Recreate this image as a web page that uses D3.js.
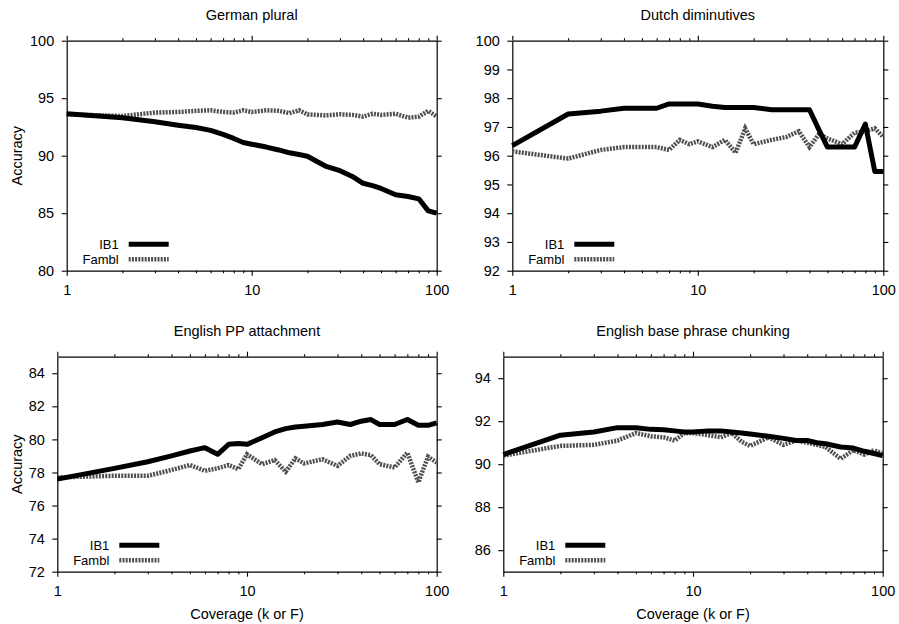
<!DOCTYPE html>
<html>
<head>
<meta charset="utf-8">
<script src="https://cdn.jsdelivr.net/npm/d3@7"></script>
<style>
  body { margin: 0; background: #fff; }
  text { font-family: "Liberation Sans", Arial, Helvetica, sans-serif; }
</style>
</head>
<body>
<svg id="chart" width="899" height="624"></svg>
<script>
// coverage values (k for IB1, F for Fambl)
const coverage = [1, 2, 3, 4, 5, 6, 7, 8, 9, 10, 12, 14, 16, 18, 20, 25, 30, 35, 40, 45, 50, 60, 70, 80, 90, 100]

const germanIB1   = [93.65, 93.3, 92.95, 92.65, 92.45, 92.2, 91.85, 91.5, 91.15, 91.0, 90.75, 90.5, 90.25, 90.1, 89.95, 89.1, 88.7, 88.2, 87.6, 87.4, 87.15, 86.6, 86.45, 86.25, 85.2, 85.0]
const germanFambl = [93.6, 93.45, 93.75, 93.8, 93.9, 93.95, 93.8, 93.75, 93.95, 93.8, 93.95, 93.9, 93.7, 93.95, 93.6, 93.5, 93.6, 93.55, 93.4, 93.65, 93.55, 93.65, 93.3, 93.4, 93.9, 93.4]

const dutchIB1   = [96.35, 97.45, 97.55, 97.65, 97.65, 97.65, 97.8, 97.8, 97.8, 97.8, 97.72, 97.68, 97.68, 97.68, 97.68, 97.6, 97.6, 97.6, 97.6, 96.9, 96.3, 96.3, 96.3, 97.1, 95.45, 95.45]
const dutchFambl = [96.15, 95.9, 96.2, 96.3, 96.3, 96.3, 96.2, 96.55, 96.4, 96.5, 96.3, 96.55, 96.1, 96.95, 96.4, 96.55, 96.65, 96.85, 96.3, 96.75, 96.6, 96.4, 96.8, 96.85, 96.95, 96.65]

const ppIB1   = [77.6, 78.25, 78.65, 79.0, 79.3, 79.5, 79.1, 79.7, 79.75, 79.7, 80.1, 80.45, 80.65, 80.75, 80.8, 80.9, 81.05, 80.9, 81.1, 81.2, 80.9, 80.9, 81.2, 80.85, 80.85, 81.0]
const ppFambl = [77.7, 77.8, 77.8, 78.15, 78.45, 78.1, 78.25, 78.45, 78.2, 79.1, 78.5, 78.75, 78.05, 78.85, 78.55, 78.8, 78.4, 79.0, 79.15, 79.05, 78.5, 78.3, 79.2, 77.4, 78.95, 78.6]

const chunkIB1   = [90.45, 91.35, 91.5, 91.7, 91.7, 91.62, 91.6, 91.55, 91.5, 91.5, 91.55, 91.55, 91.5, 91.45, 91.4, 91.3, 91.2, 91.1, 91.1, 91.0, 90.95, 90.8, 90.75, 90.6, 90.5, 90.4]
const chunkFambl = [90.4, 90.85, 90.9, 91.1, 91.45, 91.3, 91.25, 91.1, 91.45, 91.45, 91.35, 91.25, 91.45, 91.05, 90.85, 91.25, 90.9, 91.1, 91.0, 90.9, 90.8, 90.25, 90.65, 90.45, 90.65, 90.5]

const xMajor = [1, 10, 100]
const xMinor = [2, 3, 4, 5, 6, 7, 8, 9, 20, 30, 40, 50, 60, 70, 80, 90]
const seriesNames = ['IB1', 'Fambl']

const panels = [
  {title: 'German plural', ib1: germanIB1, fambl: germanFambl, yDomain: [80, 100], yTicks: [80, 85, 90, 95, 100],
   left: 66.7, right: 436.7, top: 40.7, bottom: 270.7, yLabel: true, xLabel: false},
  {title: 'Dutch diminutives', ib1: dutchIB1, fambl: dutchFambl, yDomain: [92, 100], yTicks: d3.range(92, 101),
   left: 512.3, right: 883.3, top: 40.7, bottom: 270.7, yLabel: false, xLabel: false},
  {title: 'English PP attachment', ib1: ppIB1, fambl: ppFambl, yDomain: [72, 85], yTicks: d3.range(72, 85, 2),
   left: 57.3, right: 436.7, top: 356.7, bottom: 571.7, yLabel: true, xLabel: true},
  {title: 'English base phrase chunking', ib1: chunkIB1, fambl: chunkFambl, yDomain: [85, 95], yTicks: d3.range(86, 95, 2),
   left: 503.3, right: 882.7, top: 356.7, bottom: 571.7, yLabel: false, xLabel: true}
]

const fontSize = 14.5
const famblGray = '#505050'
const svg = d3.select('#chart')

const styleAxis = sel => {
  sel.attr('font-size', fontSize).attr('font-family', '"Liberation Sans", Arial, sans-serif')
  sel.selectAll('.domain').attr('stroke-width', 1.2)
  sel.selectAll('.tick line').attr('stroke-width', 1.1)
  sel.selectAll('.tick text').attr('fill', '#000')
}

const drawPanel = p => {
  const x = d3.scaleLog().domain([1, 100]).range([p.left, p.right])
  const y = d3.scaleLinear().domain(p.yDomain).range([p.bottom, p.top])
  const g = svg.append('g').attr('class', 'panel')

  // frame + major ticks on all four sides, ticks pointing outward
  g.append('g').attr('transform', `translate(${p.left},0)`)
   .call(d3.axisLeft(y).tickValues(p.yTicks).tickSize(5).tickSizeOuter(0).tickPadding(7.5))
   .call(styleAxis)
  g.append('g').attr('transform', `translate(${p.right},0)`)
   .call(d3.axisRight(y).tickValues(p.yTicks).tickSize(5).tickSizeOuter(0).tickFormat(''))
   .call(styleAxis)
  g.append('g').attr('transform', `translate(0,${p.bottom})`)
   .call(d3.axisBottom(x).tickValues(xMajor).tickSize(5).tickSizeOuter(0).tickPadding(8.7).tickFormat(d3.format('d')))
   .call(styleAxis)
  g.append('g').attr('transform', `translate(0,${p.top})`)
   .call(d3.axisTop(x).tickValues(xMajor).tickSize(5).tickSizeOuter(0).tickFormat(''))
   .call(styleAxis)

  // minor ticks on the log axis
  g.append('g').attr('transform', `translate(0,${p.bottom})`)
   .call(d3.axisBottom(x).tickValues(xMinor).tickSize(2.5).tickSizeOuter(0).tickFormat(''))
   .call(styleAxis)
   .select('.domain').remove()
  g.append('g').attr('transform', `translate(0,${p.top})`)
   .call(d3.axisTop(x).tickValues(xMinor).tickSize(2.5).tickSizeOuter(0).tickFormat(''))
   .call(styleAxis)
   .select('.domain').remove()

  const line = d3.line().x((d, i) => x(coverage[i])).y(d => y(d))

  g.append('path')
   .datum(p.fambl)
   .attr('d', line)
   .attr('fill', 'none')
   .attr('stroke', famblGray)
   .attr('stroke-width', 4.5)
   .attr('stroke-dasharray', '2,1.2')
  g.append('path')
   .datum(p.ib1)
   .attr('d', line)
   .attr('fill', 'none')
   .attr('stroke', '#000')
   .attr('stroke-width', 5)
   .attr('stroke-linejoin', 'round')

  // title
  g.append('text')
   .attr('x', (p.left + p.right) / 2)
   .attr('y', p.top - 21)
   .attr('text-anchor', 'middle')
   .attr('font-size', fontSize)
   .text(p.title)

  if (p.yLabel) {
    g.append('text')
     .attr('transform', `translate(17,${(p.top + p.bottom) / 2}) rotate(-90)`)
     .attr('text-anchor', 'middle')
     .attr('dy', '0.35em')
     .attr('font-size', fontSize)
     .text('Accuracy')
  }
  if (p.xLabel) {
    g.append('text')
     .attr('x', (p.left + p.right) / 2)
     .attr('y', p.bottom + 47)
     .attr('text-anchor', 'middle')
     .attr('font-size', fontSize)
     .text('Coverage (k or F)')
  }

  // legend in lower left corner
  const legend = [
    {name: seriesNames[0], dy: -26.5, stroke: '#000', width: 5, dash: null},
    {name: seriesNames[1], dy: -11.5, stroke: famblGray, width: 4.5, dash: '2,1.2'}
  ]
  legend.forEach(l => {
    g.append('text')
     .attr('x', p.left + 52)
     .attr('y', p.bottom + l.dy)
     .attr('dy', '0.35em')
     .attr('text-anchor', 'end')
     .attr('font-size', 13)
     .text(l.name)
    g.append('line')
     .attr('x1', p.left + 62).attr('x2', p.left + 102)
     .attr('y1', p.bottom + l.dy).attr('y2', p.bottom + l.dy)
     .attr('stroke', l.stroke)
     .attr('stroke-width', l.width)
     .attr('stroke-dasharray', l.dash)
  })
}

panels.forEach(drawPanel)
</script>
</body>
</html>
